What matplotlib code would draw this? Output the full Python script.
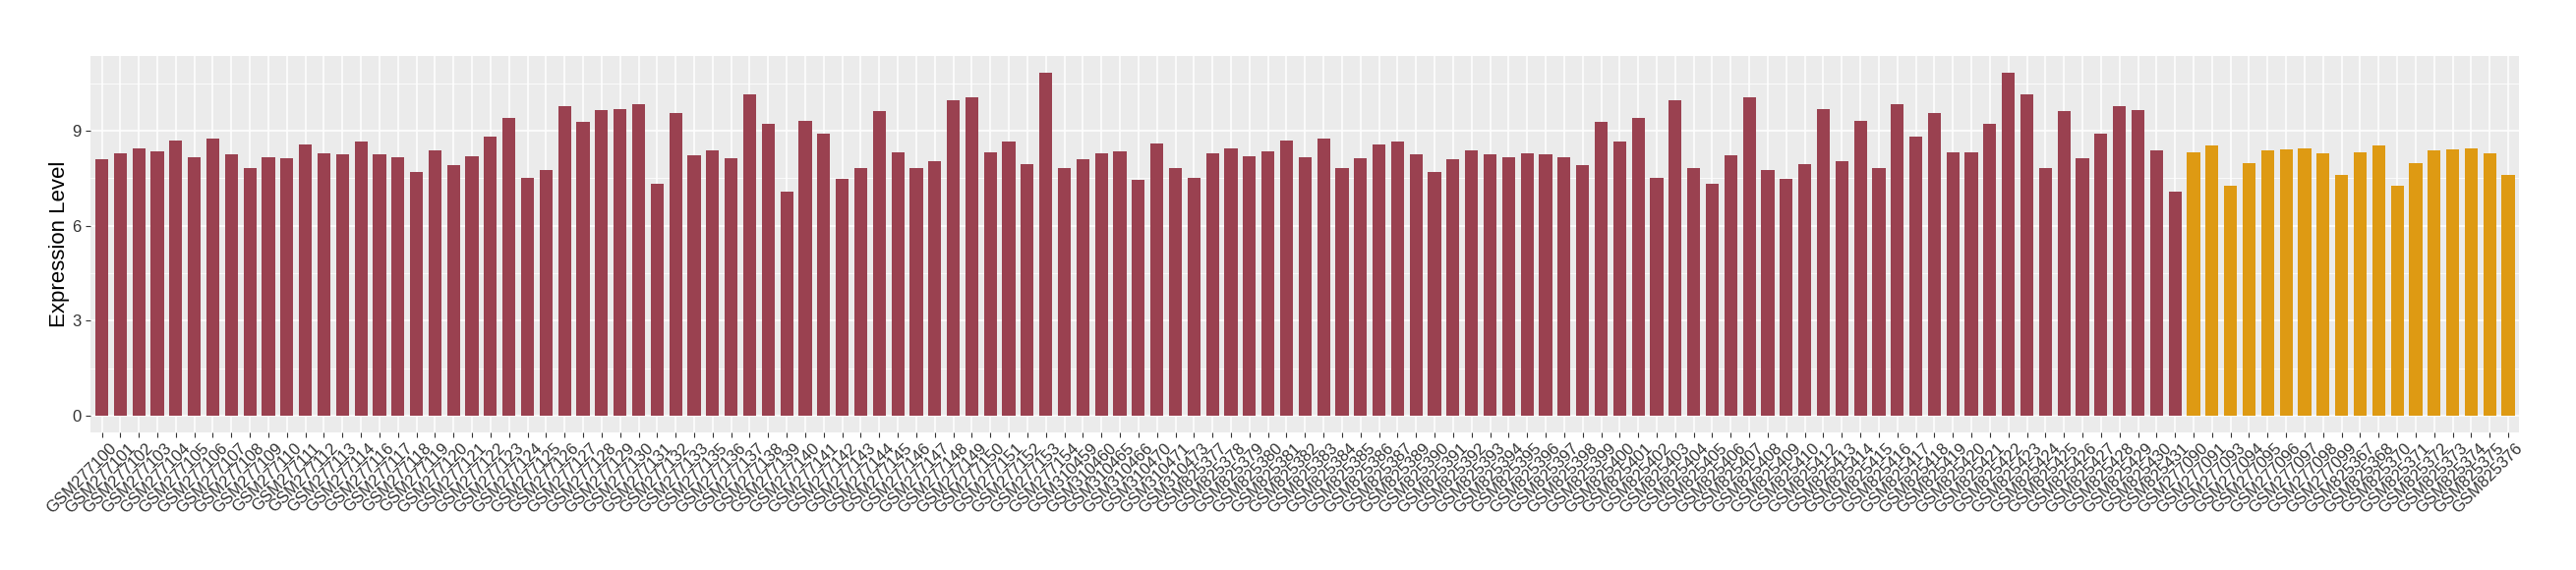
import matplotlib
matplotlib.use("Agg")
import matplotlib.pyplot as plt
import matplotlib.transforms as mtransforms
import numpy as np

plt.rcParams['font.family'] = ['Liberation Sans', 'DejaVu Sans']

# group 1 (red) samples and values
red_samples = (
    [f"GSM2771{i:02d}" for i in range(0, 15)]
    + [f"GSM2771{i:02d}" for i in range(16, 34)]
    + [f"GSM2771{i:02d}" for i in range(35, 55)]
    + ["GSM310459", "GSM310460", "GSM310465", "GSM310466", "GSM310470", "GSM310471", "GSM310473"]
    + [f"GSM825{i}" for i in range(377, 388)]
    + [f"GSM825{i}" for i in range(389, 411)]
    + [f"GSM825{i}" for i in range(412, 432)]
)
red_values = [
    8.11, 8.30, 8.45, 8.36, 8.70, 8.17, 8.76, 8.27, 7.83, 8.17, 8.14, 8.58, 8.30, 8.27, 8.67,
    8.27, 8.17, 7.71, 8.38, 7.91, 8.19, 8.81, 9.40, 7.51, 7.76, 9.78, 9.28, 9.65, 9.68, 9.84,
    7.32, 9.56, 8.22,
    8.38, 8.13, 10.15, 9.22, 7.08, 9.31, 8.91, 7.48, 7.82, 9.62, 8.32, 7.82, 8.04, 9.96,
    10.06, 8.32, 8.66, 7.94, 10.83, 7.82,
    8.10, 8.29, 8.35, 7.45, 8.60, 7.82, 7.51,
    8.29, 8.44, 8.19, 8.35, 8.69, 8.16, 8.75, 7.82, 8.13, 8.57, 8.66,
    8.26, 7.70, 8.10, 8.38, 8.26, 8.16, 8.29, 8.26, 8.16, 7.91, 9.28, 8.66, 9.40, 7.51,
    9.96, 7.82, 7.32, 8.22, 10.06, 7.76, 7.48, 7.94,
    9.68, 8.04, 9.31, 7.82, 9.84, 8.81, 9.56, 8.32, 8.32, 9.22, 10.83, 10.15, 7.82, 9.62,
    8.13, 8.91, 9.78, 9.65, 8.38, 7.08,
]

# group 2 (orange) samples and values
orange_samples = (
    ["GSM277090", "GSM277091", "GSM277093", "GSM277094", "GSM277095", "GSM277096",
     "GSM277097", "GSM277098", "GSM277099",
     "GSM825367", "GSM825368", "GSM825370", "GSM825371", "GSM825372", "GSM825373",
     "GSM825374", "GSM825375", "GSM825376"]
)
orange_values = [
    8.32, 8.53, 7.26, 7.98, 8.38, 8.41, 8.44, 8.29, 7.60,
    8.32, 8.53, 7.26, 7.98, 8.38, 8.41, 8.44, 8.29, 7.60,
]

samples = red_samples + orange_samples
values = red_values + orange_values
colors = ['#9A4150'] * len(red_values) + ['#DE9A13'] * len(orange_values)
n = len(samples)
x = np.arange(n)

fig = plt.figure(figsize=(26.2, 5.8), dpi=100)
ax = fig.add_axes([0.0352, 0.241, 0.978 - 0.0352, 0.902 - 0.241])
ax.set_facecolor('#EBEBEB')

ax.bar(x, values, width=0.7, color=colors, zorder=3)

ymax = max(values)
ax.set_ylim(-0.05 * ymax, ymax * 1.05)
ax.set_xlim(-0.6, n - 0.4)

ax.set_yticks([0, 3, 6, 9])
ax.set_yticks([1.5, 4.5, 7.5, 10.5], minor=True)
ax.set_xticks(x)
ax.set_xticklabels([])

# rotated sample labels, placed like ggplot's angle=45, hjust=1
trans = ax.get_xaxis_transform() + mtransforms.ScaledTranslation(0.07, -0.08, fig.dpi_scale_trans)
for xi, name in zip(x, samples):
    ax.text(xi, 0, name, transform=trans, rotation=45, ha='right', va='top',
            rotation_mode='anchor', fontsize=12, color='#333333', clip_on=False)

ax.tick_params(axis='y', labelsize=12, labelcolor='#333333')
ax.tick_params(axis='both', which='major', length=3.6, width=0.8, color='#333333')
ax.tick_params(axis='y', which='minor', length=0)

ax.grid(True, which='major', color='white', linewidth=1.1, zorder=0)
ax.grid(True, which='minor', axis='y', color='white', linewidth=0.55, zorder=0)
ax.set_axisbelow(True)
for s in ax.spines.values():
    s.set_visible(False)

ax.set_ylabel("Expression Level", fontsize=16)
ax.yaxis.set_label_coords(-0.0085, 0.5)

plt.savefig("out.png", dpi=100)
